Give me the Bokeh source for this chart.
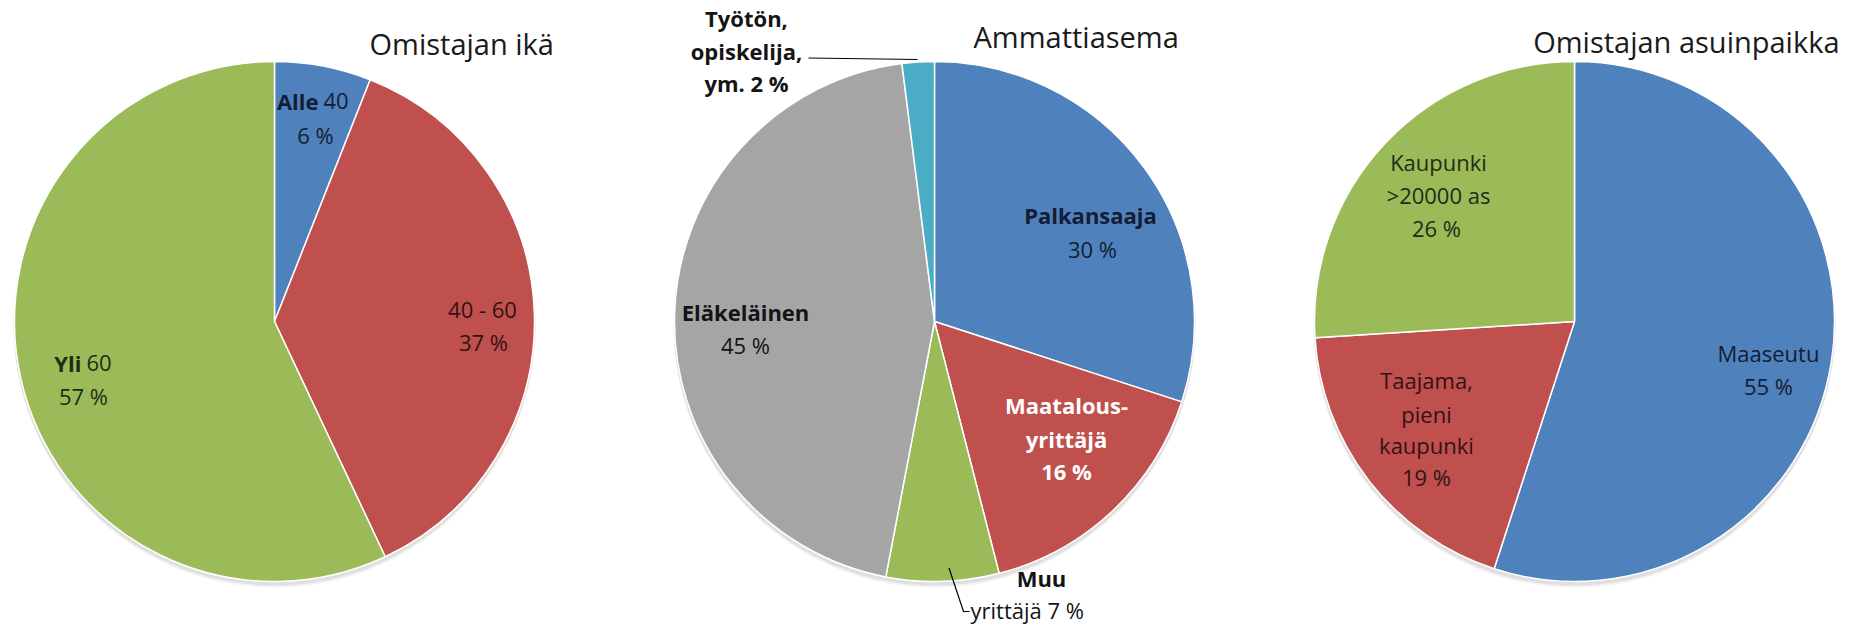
import math
from bokeh.plotting import figure
from bokeh.models import Range1d, ColumnDataSource
from bokeh.core.properties import value
from bokeh.embed import file_html
from bokeh.resources import INLINE

# ---------------- data ----------------
age_labels = ["Alle 40", "40 - 60", "Yli 60"]
age_values = [6, 37, 57]

job_labels = ["Palkansaaja", "Maatalous-yrittäjä", "Muu yrittäjä", "Eläkeläinen", "Työtön, opiskelija, ym."]
job_values = [30, 16, 7, 45, 2]

home_labels = ["Maaseutu", "Taajama, pieni kaupunki", "Kaupunki >20000 as"]
home_values = [55, 19, 26]

titles = ["Omistajan ikä", "Ammattiasema", "Omistajan asuinpaikka"]

BLUE, RED, GREEN, GRAY, TEAL = "#4F81BD", "#C0504D", "#9BBB59", "#A5A5A5", "#4BACC6"
age_colors = [BLUE, RED, GREEN]
job_colors = [BLUE, RED, GREEN, GRAY, TEAL]
home_colors = [BLUE, RED, GREEN]

FONT = value("Open Sans")
W, H = 1840, 627

p = figure(width=W, height=H, output_backend="svg", toolbar_location=None,
           x_range=Range1d(0, W), y_range=Range1d(-H, 0),
           x_axis_type=None, y_axis_type=None, min_border=0)
p.grid.visible = False
p.outline_line_color = None
p.background_fill_color = "white"
p.border_fill_color = "white"

R = 260
centers = [(274, 321), (934, 321), (1574, 321)]


def draw_pie(cx, cy, vals, cols):
    # soft shadow
    for off, a in [(5, 0.05), (3, 0.08)]:
        p.circle(x=[cx], y=[-(cy + off)], radius=R + 1, fill_color="#000000",
                 fill_alpha=a, line_color=None)
    total = float(sum(vals))
    starts, ends = [], []
    c = 0.0
    for v in vals:
        starts.append(math.pi / 2 - 2 * math.pi * c / total)
        c += v
        ends.append(math.pi / 2 - 2 * math.pi * c / total)
    src = ColumnDataSource(dict(x=[cx] * len(vals), y=[-cy] * len(vals),
                                s=starts, e=ends, c=cols))
    p.wedge(x="x", y="y", radius=R, start_angle="s", end_angle="e",
            direction="clock", fill_color="c", line_color="white",
            line_width=1.5, source=src)


draw_pie(*centers[0], age_values, age_colors)
draw_pie(*centers[1], job_values, job_colors)
draw_pie(*centers[2], home_values, home_colors)


def txt(s, x, y, size="22px", bold=False, color="#141414", align="center",
        baseline="middle"):
    p.text(x=[x], y=[-y], text=[s], text_font=FONT, text_font_size=value(size),
           text_font_style="bold" if bold else "normal", text_color=color,
           text_align=align, text_baseline=baseline)


def pct(v):
    return f"{v} %"


# titles
TS = "29px"
txt(titles[0], 369, 43, size=TS, color="#1a1a1a", align="left", baseline="alphabetic")
txt(titles[1], 973, 36, size=TS, color="#1a1a1a", align="left", baseline="alphabetic")
txt(titles[2], 1839, 41, size=TS, color="#1a1a1a", align="right", baseline="alphabetic")

# ---- pie 1 labels ----
NAVY, DRED, DGRN = "#141d33", "#321312", "#222c15"
a0w, a0n = age_labels[0].split(" ")
txt(a0w, 318, 100, bold=True, color=NAVY, align="right")
txt(a0n, 323, 100, color=NAVY, align="left")
txt(pct(age_values[0]), 315, 134, color=NAVY)

txt(age_labels[1], 482, 308, color=DRED)
txt(pct(age_values[1]), 483, 341, color=DRED)

a2w, a2n = age_labels[2].split(" ")
txt(a2w, 81, 362, bold=True, color=DGRN, align="right")
txt(a2n, 86, 362, color=DGRN, align="left")
txt(pct(age_values[2]), 83, 395, color=DGRN)

# ---- pie 2 labels ----
txt(job_labels[0], 1090, 214, bold=True, color=NAVY)
txt(pct(job_values[0]), 1092, 248, color=NAVY)

m1, m2 = job_labels[1].split("-")
txt(m1 + "-", 1066, 404, bold=True, color="white")
txt(m2, 1066, 438, bold=True, color="white")
txt(pct(job_values[1]), 1066, 470, bold=True, color="white")

mu1, mu2 = job_labels[2].split(" ")
txt(mu1, 1041, 577, bold=True)
txt(mu2 + " " + pct(job_values[2]), 970, 609, align="left")

txt(job_labels[3], 745, 311, bold=True)
txt(pct(job_values[3]), 745, 344)

t1, t2, t3 = job_labels[4].split(" ")
txt(t1, 746, 17, bold=True)
txt(t2, 746, 50, bold=True)
txt(t3 + " " + pct(job_values[4]), 746, 82, bold=True)

# leader lines
p.line(x=[808, 917], y=[-57.5, -59], line_color="#000000", line_width=1.2)
p.line(x=[948.5, 963, 969], y=[-567.5, -611, -611], line_color="#000000", line_width=1.2)

# ---- pie 3 labels ----
txt(home_labels[0], 1768, 352, color=NAVY)
txt(pct(home_values[0]), 1768, 385, color=NAVY)

h1, h2, h3 = home_labels[1].split(" ")
txt(h1, 1426, 379, color=DRED)
txt(h2, 1426, 413, color=DRED)
txt(h3, 1426, 444, color=DRED)
txt(pct(home_values[1]), 1426, 476, color=DRED)

k1, k2 = home_labels[2].split(" ", 1)
txt(k1, 1438, 161, color=DGRN)
txt(k2, 1438, 194, color=DGRN)
txt(pct(home_values[2]), 1436, 227, color=DGRN)

open("out.html", "w").write(file_html(p, INLINE))
